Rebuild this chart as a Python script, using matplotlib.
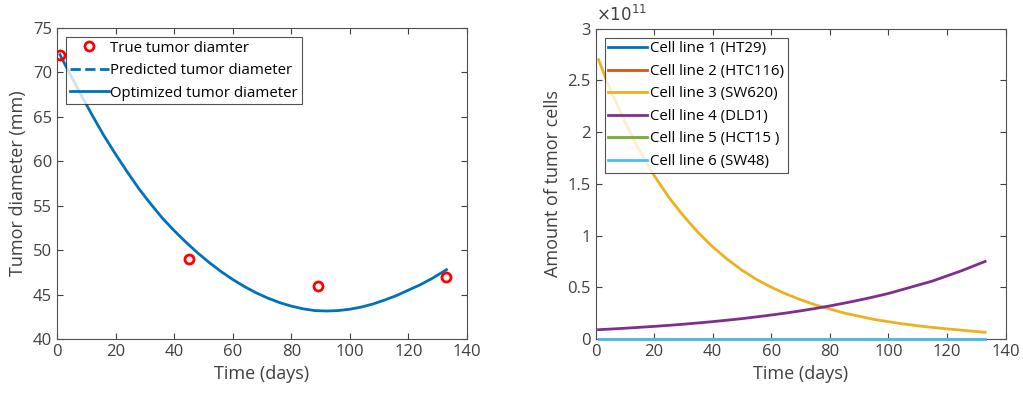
import matplotlib
matplotlib.use('Agg')
import matplotlib.pyplot as plt
from matplotlib.ticker import FuncFormatter

plt.rcParams['font.family'] = ['Open Sans', 'DejaVu Sans']

# measured tumor diameter (mm)
days_true = [1, 45, 89, 133]
diam_true = [72, 49, 46, 47]

# optimized fit
days_fit = [1, 4, 8, 12, 16, 20, 24, 28, 32, 36, 40, 44, 48, 52, 56, 60, 64, 68, 72, 76, 80,
            84, 88, 92, 96, 100, 104, 108, 112, 116, 120, 124, 128, 133]
diam_fit = [72.0, 70.1, 67.6, 65.2, 62.9, 60.8, 58.8, 56.9, 55.2, 53.6, 52.2, 50.9, 49.7, 48.6,
            47.6, 46.7, 45.9, 45.2, 44.6, 44.1, 43.7, 43.4, 43.2, 43.15, 43.2, 43.35, 43.6, 43.95,
            44.4, 44.9, 45.5, 46.1, 46.8, 47.8]

# tumor cell counts per cell line (units of 1e11)
days_cells = [1, 5, 10, 15, 20, 25, 30, 35, 40, 45, 50, 55, 60, 65, 70, 75, 80, 85, 90, 95,
              100, 105, 110, 115, 120, 125, 133]
line1 = [0.0] * 27
line2 = [0.0] * 27
line3 = [2.70, 2.41, 2.10, 1.82, 1.58, 1.37, 1.19, 1.03, 0.89, 0.77, 0.665, 0.575, 0.50, 0.435,
         0.38, 0.33, 0.29, 0.25, 0.22, 0.19, 0.167, 0.146, 0.128, 0.112, 0.098, 0.085, 0.065]
line4 = [0.090, 0.096, 0.104, 0.113, 0.122, 0.132, 0.143, 0.155, 0.168, 0.182, 0.197, 0.214,
         0.232, 0.251, 0.272, 0.295, 0.320, 0.347, 0.376, 0.407, 0.44, 0.48, 0.52, 0.56, 0.61,
         0.66, 0.75]
line5 = [0.0] * 27
line6 = [0.0] * 27
cell_labels = ['Cell line 1 (HT29)', 'Cell line 2 (HTC116)', 'Cell line 3 (SW620)',
               'Cell line 4 (DLD1)', 'Cell line 5 (HCT15 )', 'Cell line 6 (SW48)']
cell_colors = ['#0072BD', '#D95319', '#EDB120', '#7E2F8E', '#77AC30', '#4DBEEE']

txt = '#404040'
fig = plt.figure(figsize=(10.23, 4.01), dpi=100)
ax1 = fig.add_axes([0.0557, 0.1546, 0.4008, 0.7756])
ax2 = fig.add_axes([0.5822, 0.1546, 0.4008, 0.7740])

# left panel
ax1.plot(days_true, diam_true, 'o', color='#FF0000', mfc='none', mew=2, ms=6.5,
         label='True tumor diamter', zorder=3)
ax1.plot([], [], '--', color='#0072BD', lw=2, label='Predicted tumor diameter')
ax1.plot(days_fit, diam_fit, '-', color='#0072BD', lw=2, label='Optimized tumor diameter')
ax1.set_xlim(0, 140)
ax1.set_ylim(40, 75)
ax1.set_xticks(range(0, 141, 20))
ax1.set_yticks(range(40, 76, 5))
ax1.set_xlabel('Time (days)', fontsize=13, color=txt)
ax1.set_ylabel('Tumor diameter (mm)', fontsize=13, color=txt)
leg1 = ax1.legend(loc='upper left', fontsize=10.8, frameon=True, fancybox=False,
                  edgecolor='#262626', labelspacing=0.5, handlelength=2.6,
                  handletextpad=0.1, borderaxespad=0.6, borderpad=0.25)
leg1.get_frame().set_linewidth(0.8)

# right panel
for vals, lab, col in zip([line1, line2, line3, line4, line5, line6], cell_labels, cell_colors):
    ax2.plot(days_cells, vals, '-', color=col, lw=2, label=lab, clip_on=False, zorder=3)
ax2.set_xlim(0, 140)
ax2.set_ylim(0, 3)
ax2.set_xticks(range(0, 141, 20))
ax2.set_yticks([0, 0.5, 1, 1.5, 2, 2.5, 3])
ax2.yaxis.set_major_formatter(FuncFormatter(lambda v, p: '%g' % v))
ax2.text(0.0, 1.012, r'$\times10^{11}$', transform=ax2.transAxes, fontsize=12, color=txt,
         ha='left', va='bottom')
ax2.set_xlabel('Time (days)', fontsize=13, color=txt)
ax2.set_ylabel('Amount of tumor cells', fontsize=13, color=txt)
leg2 = ax2.legend(loc='upper left', fontsize=10.8, frameon=True, fancybox=False,
                  edgecolor='#262626', labelspacing=0.5, handlelength=2.6,
                  handletextpad=0.2, borderaxespad=0.6, borderpad=0.25)
leg2.get_frame().set_linewidth(0.8)
leg2.set_zorder(5)

for ax in (ax1, ax2):
    ax.tick_params(direction='in', top=True, right=True, labelsize=12, colors=txt,
                   length=4, width=0.8)
    for s in ax.spines.values():
        s.set_color('#505050')
        s.set_linewidth(0.8)

fig.savefig('out.png', dpi=100)
